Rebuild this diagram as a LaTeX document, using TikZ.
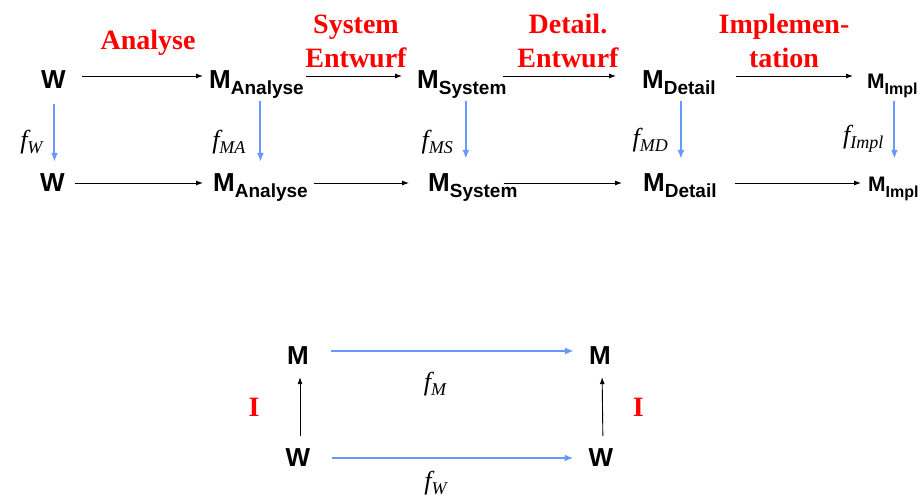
\documentclass[tikz,border=0pt]{standalone}
\usepackage{fontspec}
\setmainfont{Liberation Serif}
\newfontfamily\helv{Liberation Sans}
\usepackage{xcolor}
\usepackage{tikz}
\usetikzlibrary{arrows.meta}

\definecolor{mapblue}{RGB}{102,153,255}

% M with a lowered index
\newcommand{\msub}[2][19]{M\raisebox{-6pt}{\fontsize{#1}{#1}\selectfont #2}}
% italic f with index
\newcommand{\fsub}[1]{f\raisebox{-5pt}{\fontsize{18}{18}\selectfont #1}}

\tikzset{
	model/.style={font=\helv\bfseries\fontsize{26}{30}\selectfont, inner sep=0pt, anchor=base west, text height=32pt, text depth=8pt},
	lower/.style={text height=24pt},
	plain/.style={font=\helv\bfseries\fontsize{26}{30}\selectfont, inner sep=0pt},
	phase/.style={font=\bfseries\fontsize{28}{34}\selectfont, text=red, align=center, inner sep=0pt},
	map/.style={font=\itshape\fontsize{26}{28}\selectfont, text=black, inner sep=0pt},
	step arrow/.style={-{Latex[length=7pt,width=5pt]}, line width=0.9pt},
	map arrow/.style={-{Latex[length=9pt,width=7pt]}, line width=2pt, mapblue}
}

\begin{document}
\begin{tikzpicture}[x=1pt,y=-1pt]
	\useasboundingbox (0,0) rectangle (923,498);

	% upper row
	\node[model] (W1) at (41,88) {W};
	\node[model] (MA1) at (209,88) {\msub{Analyse}};
	\node[model] (MS1) at (417,88) {\msub{System}};
	\node[model] (MD1) at (642,88) {\msub{Detail}};
	\node[model, font=\helv\bfseries\fontsize{21}{30}\selectfont] (MI1) at (867,88) {\msub[16]{Impl}};

	% lower row
	\node[model, lower] (W2) at (40,191) {W};
	\node[model, lower] (MA2) at (213,191) {\msub{Analyse}};
	\node[model, lower] (MS2) at (428,191) {\msub{System}};
	\node[model, lower] (MD2) at (643,191) {\msub{Detail}};
	\node[model, lower, font=\helv\bfseries\fontsize{21}{30}\selectfont] (MI2) at (868,191) {\msub[16]{Impl}};

	% phases
	\node[phase] (analyse) at (148,43) {Analyse};
	\node[phase] (system) at (356,41) {System\\Entwurf};
	\node[phase] (detail) at (568,41) {Detail.\\Entwurf};
	\node[phase] (impl) at (784,41) {Implemen-\\tation};

	\draw[step arrow, shorten <=16pt, shorten >=6pt] (W1.east) -- (MA1.west);
	\draw[step arrow, shorten <=2pt, shorten >=15pt] (MA1.east) -- (MS1.west);
	\draw[step arrow, shorten <=-4pt, shorten >=26pt] (MS1.east) -- (MD1.west);
	\draw[step arrow, shorten <=20pt, shorten >=14pt] (MD1.east) -- (MI1.west);

	\draw[step arrow, shorten <=10pt, shorten >=10pt] (W2.east) -- (MA2.west);
	\draw[step arrow, shorten <=6pt, shorten >=19pt] (MA2.east) -- (MS2.west);
	\draw[step arrow, shorten <=-14pt, shorten >=21pt] (MS2.east) -- (MD2.west);
	\draw[step arrow, shorten <=18pt, shorten >=7pt] (MD2.east) -- (MI2.west);

	\draw[map arrow, shorten <=8pt, shorten >=5pt] ([xshift=1pt]W1.south) -- ([xshift=1pt]W1.south |- W2.north) node[map, left=11pt, pos=0.65] {\fsub{W}};
	\draw[map arrow, shorten <=5pt, shorten >=5pt] ([xshift=4pt]MA1.south) -- ([xshift=4pt]MA1.south |- MA2.north) node[map, left=14pt, pos=0.65] {\fsub{MA}};
	\draw[map arrow, shorten <=5pt, shorten >=8pt] ([xshift=4pt]MS1.south) -- ([xshift=4pt]MS1.south |- MS2.north) node[map, left=12pt, pos=0.65] {\fsub{MS}};
	\draw[map arrow, shorten <=5pt, shorten >=8pt] ([xshift=2pt]MD1.south) -- ([xshift=2pt]MD1.south |- MD2.north) node[map, left=12pt, pos=0.62] {\fsub{MD}};
	\draw[map arrow, shorten <=5pt, shorten >=8pt] ([xshift=2pt]MI1.south) -- ([xshift=2pt]MI1.south |- MI2.north) node[map, left=10pt, pos=0.6] {\fsub{Impl}};

	% square
	\node[plain] (M3) at (298,356) {M};
	\node[plain] (M4) at (600,356) {M};
	\node[plain] (W3) at (298,458) {W};
	\node[plain] (W4) at (601,458) {W};

	\draw[map arrow, shorten <=22pt, shorten >=15pt] ([yshift=5pt]M3.east) -- ([yshift=5pt]M4.west) node[map, below=20pt, pos=0.45] {\fsub{M}};
	\draw[map arrow, shorten <=22pt, shorten >=15pt] (W3.east) -- (W4.west) node[map, below=12pt, pos=0.45] {\fsub{W}};
	\draw[step arrow, shorten <=13pt, shorten >=12pt] ([xshift=2pt]W3.north) -- ([xshift=2pt]M3.south) node[phase, left=40pt, midway] {I};
	\draw[step arrow, shorten <=13pt, shorten >=12pt] ([xshift=2pt]W4.north) -- ([xshift=2pt]M4.south) node[phase, right=30pt, midway] {I};
\end{tikzpicture}
\end{document}
